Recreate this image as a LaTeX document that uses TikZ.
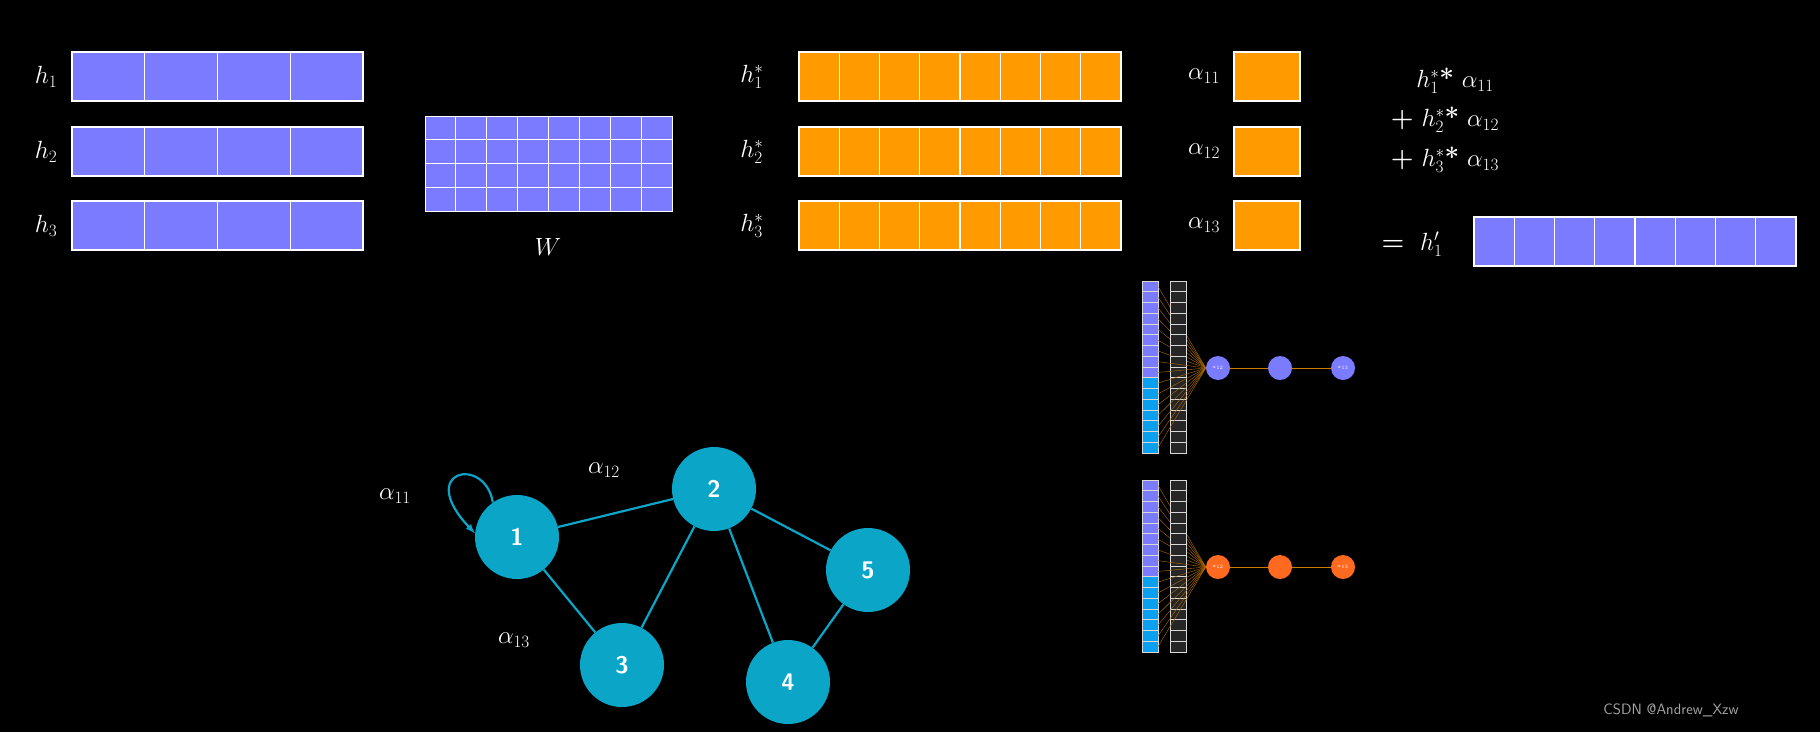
\documentclass[tikz,border=0pt]{standalone}
\usepackage{fontspec}
\begin{document}
\begin{tikzpicture}[x=1pt,y=-1pt,
  cellp/.style={fill=pur,draw=white,line width=1.3pt},
  cello/.style={fill=org,draw=white,line width=1.3pt},
  lab/.style={text=white,font=\fontsize{26}{30}\selectfont},
  gn/.style={circle,fill=teal,minimum size=84pt,inner sep=0,text=white,font=\sffamily\bfseries\fontsize{24}{28}\selectfont},
  ge/.style={draw=teal,line width=2.2pt},
  nn/.style={circle,minimum size=24pt,inner sep=0,text=white,font=\fontsize{5}{6}\selectfont}]
\definecolor{pur}{HTML}{7B7BFF}\definecolor{org}{HTML}{FF9A00}
\definecolor{teal}{HTML}{0BA5C8}\definecolor{blu}{HTML}{0AA0F0}\definecolor{red2}{HTML}{FF6A20}
\fill[black] (0,0) rectangle (1820,732);
\useasboundingbox (0,0) rectangle (1820,732);
% h rows
\foreach \y/\i in {52/1,127/2,201/3}{
  \foreach \k in {0,...,3} \draw[cellp] (72+\k*72.75,\y) rectangle ++(72.75,49);
  \node[lab] (h\i) at (46,\y+24.5) {$h_{\i}$};
  \foreach \k in {0,...,7} \draw[cello] (799+\k*40.25,\y) rectangle ++(40.25,49);
  \node[lab] (hs\i) at (752,\y+24.5) {$h^*_{\i}$};
  \draw[cello] (1234,\y) rectangle ++(66,49);
  \node[lab] (a\i) at (1204,\y+24.5) {$\alpha_{1\i}$};
}
% W
\foreach \k in {0,...,7}\foreach \r in {0,...,3}
  \draw[cellp,line width=1pt] (425+\k*30.875,116+\r*23.75) rectangle ++(30.875,23.75);
\node[lab] (W) at (548,247) {$W$};
% sum
\node[lab] (s1) at (1455,81) {$h^*_1$\textbf{*} $\alpha_{11}$};
\node[lab] (s2) at (1445,120) {\textbf{+} $h^*_2$\textbf{*} $\alpha_{12}$};
\node[lab] (s3) at (1445,160) {\textbf{+} $h^*_3$\textbf{*} $\alpha_{13}$};
\node[lab] (eq) at (1412,244) {\textbf{=} \ $h'_1$};
\foreach \k in {0,...,7} \draw[cellp] (1474+\k*40.25,217) rectangle ++(40.25,49);
% neural nets
\foreach \yy/\c/\n in {281/pur/t,480/red2/b}{
  \node[nn,fill=\c] (\n1) at (1218,\yy+87) {$a_{12}$};
  \node[nn,fill=\c] (\n2) at (1280,\yy+87) {};
  \node[nn,fill=\c] (\n3) at (1343,\yy+87) {$a_{13}$};
  \draw[org!80!black,line width=0.6pt] (\n1)--(\n2)--(\n3);
  \foreach \r in {0,...,15}{
    \pgfmathsetmacro{\cy}{\yy+\r*10.75}
    \ifnum\r<9 \def\cc{pur}\else\def\cc{blu}\fi
    \draw[fill=\cc,draw=white!85!black,line width=0.8pt] (1142,\cy) rectangle ++(16,10.75);
    \draw[fill=black!85,draw=white!85!black,line width=0.8pt] (1170,\cy) rectangle ++(16,10.75);
    \draw[org!70!black,line width=0.4pt] (1158,\cy+5.4) -- (\n1.west);
  }
}
% graph
\node[gn] (n1) at (517,537) {1};
\node[gn] (n2) at (714,489) {2};
\node[gn] (n5) at (868,570) {5};
\node[gn] (n3) at (622,665) {3};
\node[gn] (n4) at (788,682) {4};
\draw[ge] (n1)--(n2) (n1)--(n3) (n2)--(n3) (n2)--(n4) (n2)--(n5) (n5)--(n4);
\draw[ge,->,>=latex] (n1.125) .. controls (485,455) and (415,470) .. (n1.175);
\node[lab] (a11) at (395,496) {$\alpha_{11}$};
\node[lab] (a12) at (604,470) {$\alpha_{12}$};
\node[lab] (a13) at (514,640) {$\alpha_{13}$};
\node[text=gray!70,font=\sffamily\fontsize{15}{18}\selectfont] (wm) at (1671,710) {CSDN @Andrew\_Xzw};
\end{tikzpicture}
\end{document}
